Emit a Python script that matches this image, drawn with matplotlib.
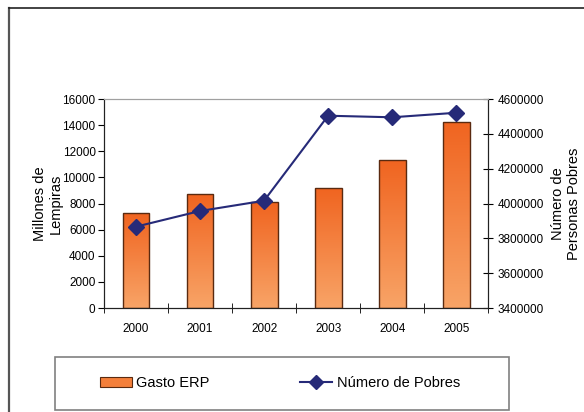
import numpy as np
import matplotlib
matplotlib.use('Agg')
import matplotlib.pyplot as plt
from matplotlib.colors import LinearSegmentedColormap
from matplotlib.lines import Line2D
from matplotlib.patches import Rectangle
from matplotlib.ticker import FormatStrFormatter

years = ['2000', '2001', '2002', '2003', '2004', '2005']
gasto_erp = [7250, 8720, 8080, 9200, 11340, 14250]
num_pobres = [3867000, 3957000, 4016000, 4504000, 4495000, 4521000]

plt.rcParams['font.family'] = ['Liberation Sans Narrow', 'Liberation Sans', 'DejaVu Sans']

fig = plt.figure(figsize=(5.84, 4.12), dpi=100)
ax = fig.add_axes([0.178, 0.2524, 0.658, 0.5073])
ax2 = ax.twinx()

x = np.arange(len(years))
bars = ax.bar(x, gasto_erp, width=0.42, color='none', edgecolor='#5a2a10', linewidth=1.0, zorder=3)

# vertical gradient inside each bar
cmap = LinearSegmentedColormap.from_list('grad', ['#f8a467', '#f06420'])
grad = np.linspace(0, 1, 256).reshape(-1, 1)
for b in bars:
    im = ax.imshow(grad, cmap=cmap, origin='lower', aspect='auto', zorder=2,
                   extent=[b.get_x(), b.get_x() + b.get_width(), 0, b.get_height()])
    im.set_clip_path(b)

ax.set_xlim(-0.5, len(years) - 0.5)
ax.set_ylim(0, 16000)
ax.set_yticks(range(0, 16001, 2000))
ax.set_xticks(x)
ax.set_xticklabels(years)
ax.set_xticks(np.arange(-0.5, len(years)), minor=True)
ax.tick_params(axis='x', which='major', length=0, pad=11, labelsize=8.5)
ax.tick_params(axis='x', which='minor', direction='inout', length=7)
ax.tick_params(axis='y', direction='out', length=4, pad=2, labelsize=8.5)

ax2.plot(x, num_pobres, color='#262a78', linewidth=1.5, marker='D', markersize=8, zorder=4)
ax2.set_ylim(3400000, 4600000)
ax2.set_yticks(range(3400000, 4600001, 200000))
ax2.yaxis.set_major_formatter(FormatStrFormatter('%d'))
ax2.tick_params(axis='y', direction='inout', length=7, pad=3, labelsize=8.5)

for a in (ax, ax2):
    a.spines['top'].set_color('#a0a0a0')
    a.spines['left'].set_color('#222222')
    a.spines['right'].set_color('#222222')
    a.spines['bottom'].set_color('#222222')

ax.set_ylabel('Millones de\nLempiras', fontsize=10.5, family=['Liberation Sans', 'DejaVu Sans'])
ax.yaxis.set_label_coords(-0.107, 0.5)
ax2.set_ylabel('Número de\nPersonas Pobres', fontsize=10.5, family=['Liberation Sans', 'DejaVu Sans'],
               rotation=90)
ax2.yaxis.set_label_coords(1.164, 0.5)

# outer frame lines
fig.add_artist(Line2D([0.0155, 0.0155], [0, 1 - 8 / 412], color='#555555', linewidth=1.6, transform=fig.transFigure))
fig.add_artist(Line2D([0.0155, 1], [1 - 8 / 412, 1 - 8 / 412], color='#222222', linewidth=1.2, transform=fig.transFigure))

# legend box
fig.add_artist(Rectangle((55 / 584, 2 / 412), 454 / 584, 53 / 412, transform=fig.transFigure,
                         facecolor='white', edgecolor='#808080', linewidth=1.2))
handles = [Rectangle((0, 0), 1, 1, facecolor='#f47f3a', edgecolor='#5a2a10', linewidth=0.8),
           Line2D([], [], color='#262a78', linewidth=1.5, marker='D', markersize=7)]
leg = fig.legend(handles, ['Gasto ERP', 'Número de Pobres'], loc='center left',
                 bbox_to_anchor=(100 / 584, 29 / 412), ncol=2, frameon=False, fontsize=10.5,
                 handlelength=2.2, handletextpad=0.3, columnspacing=6.2,
                 borderpad=0, borderaxespad=0)

fig.savefig('out.png', dpi=100)
